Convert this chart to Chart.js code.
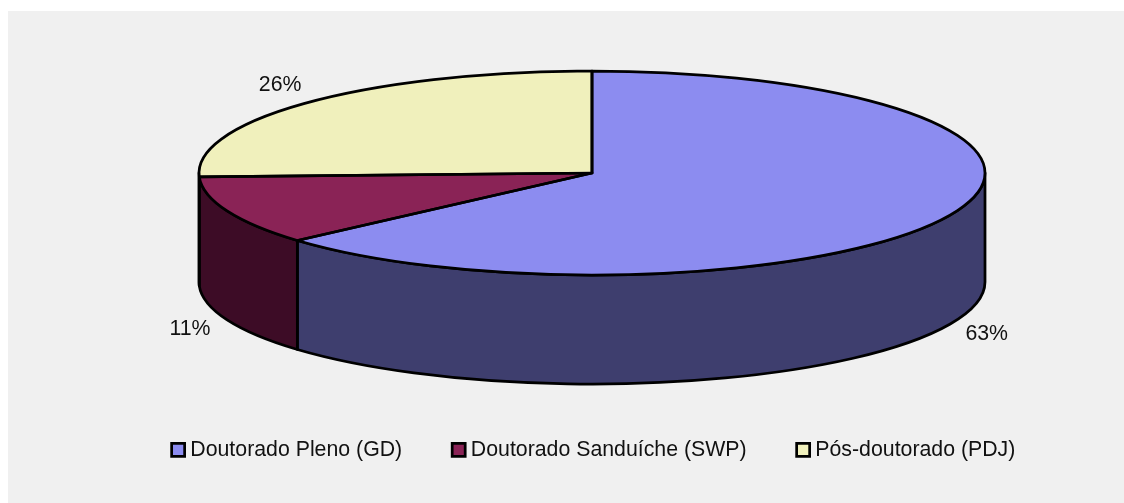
<!DOCTYPE html>
<html>
<head>
<meta charset="utf-8">
<title>Bolsas</title>
<script src="https://cdn.jsdelivr.net/npm/chart.js@4"></script>
<style>
html,body{margin:0;padding:0;background:#fff;overflow:hidden;}
#panel{position:absolute;left:8px;top:11px;right:0;bottom:0;background:#f0f0f0;}
#myChart{position:absolute;left:0;top:0;}
</style>
</head>
<body>
<div id="panel"></div>
<canvas id="myChart" width="1124" height="503"></canvas>
<script>
const categories = ["Doutorado Pleno (GD)", "Doutorado Sanduíche (SWP)", "Pós-doutorado (PDJ)"];
const shares = [63.49, 10.91, 25.6];
const topColors = ["#8c8cf0", "#8a2356", "#f0f0bc"];
const sideColors = ["#3e3e6e", "#3d0c26", "#f0f0bc"];
// where the flat library pie is projected to
const CX = 592, CY = 173, RX = 393, RY = 102, DEPTH = 109;
const LINE = 2.75;

function ex(a){ return CX + RX*Math.cos(a); }
function ey(a){ return CY + RY*Math.sin(a); }

const pie3d = {
    id:"pie3d",
    beforeDatasetsDraw(chart) {
        const ctx = chart.ctx;
        const arcs = chart.getDatasetMeta(0).data;
        ctx.save();
        ctx.lineWidth = LINE;
        ctx.strokeStyle = "#000";
        ctx.lineJoin = "round";
        // side wall, only the front half of the ellipse shows (angles 0..PI)
        arcs.forEach(function(arc,i) {
            let a0 = Math.max(arc.startAngle, 0);
            let a1 = Math.min(arc.endAngle, Math.PI);
            if (a1 <= a0) return;
            ctx.beginPath();
            ctx.ellipse(CX, CY, RX, RY, 0, a0, a1);
            ctx.lineTo(ex(a1), ey(a1)+DEPTH);
            ctx.ellipse(CX, CY+DEPTH, RX, RY, 0, a1, a0, true);
            ctx.closePath();
            ctx.fillStyle = sideColors[i];
            ctx.fill();
            ctx.stroke();
        });
        ctx.restore();
        // the library draws the flat arcs, squashed into the ellipse
        const a = arcs[0];
        const R = a.outerRadius;
        ctx.save();
        ctx.translate(CX, CY);
        ctx.scale(RX/R, RY/R);
        ctx.translate(-a.x, -a.y);
    },
    afterDatasetsDraw(chart) {
        const ctx = chart.ctx;
        ctx.restore();
        const arcs = chart.getDatasetMeta(0).data;
        ctx.save();
        ctx.lineWidth = LINE;
        ctx.strokeStyle = "#000";
        ctx.lineJoin = "round";
        arcs.forEach(function(arc) {
            ctx.beginPath();
            ctx.moveTo(CX, CY);
            ctx.lineTo(ex(arc.startAngle), ey(arc.startAngle));
            ctx.ellipse(CX, CY, RX, RY, 0, arc.startAngle, arc.endAngle);
            ctx.closePath();
            ctx.stroke();
        });
        // percent labels
        ctx.fillStyle = "#111";
        ctx.font = "21.3px 'Liberation Sans'";
        ctx.textAlign = "center";
        ctx.textBaseline = "middle";
        arcs.forEach(function(arc,i) {
            let mid = (arc.startAngle+arc.endAngle)/2;
            let x = CX + (RX+40)*Math.cos(mid);
            let y = CY + (RY+25)*Math.sin(mid);
            if (Math.sin(mid) > 0) y += DEPTH;
            ctx.fillText(Math.round(shares[i])+"%", x, y);
        });
        ctx.restore();
    }
};

new Chart(document.getElementById("myChart"), {
    type:"pie",
    data:{
        labels:categories,
        datasets:[{
            data:shares,
            backgroundColor:topColors,
            borderWidth:0
        }]
    },
    options:{
        responsive:false,
        animation:false,
        layout:{padding:{top:20,left:68,bottom:32.5}},
        plugins:{
            tooltip:{enabled:false},
            legend:{
                position:"bottom",
                labels:{
                    usePointStyle:true,
                    boxWidth:3,
                    boxHeight:13,
                    padding:55,
                    color:"#111",
                    font:{family:"'Liberation Sans'",size:21.3},
                    generateLabels:function(chart) {
                        let items = Chart.overrides.pie.plugins.legend.labels.generateLabels(chart);
                        items.forEach(function(it) {
                            it.pointStyle = "rect";
                            it.strokeStyle = "#000";
                            it.lineWidth = LINE;
                        });
                        return items;
                    }
                }
            }
        }
    },
    plugins:[pie3d]
});
</script>
</body>
</html>
